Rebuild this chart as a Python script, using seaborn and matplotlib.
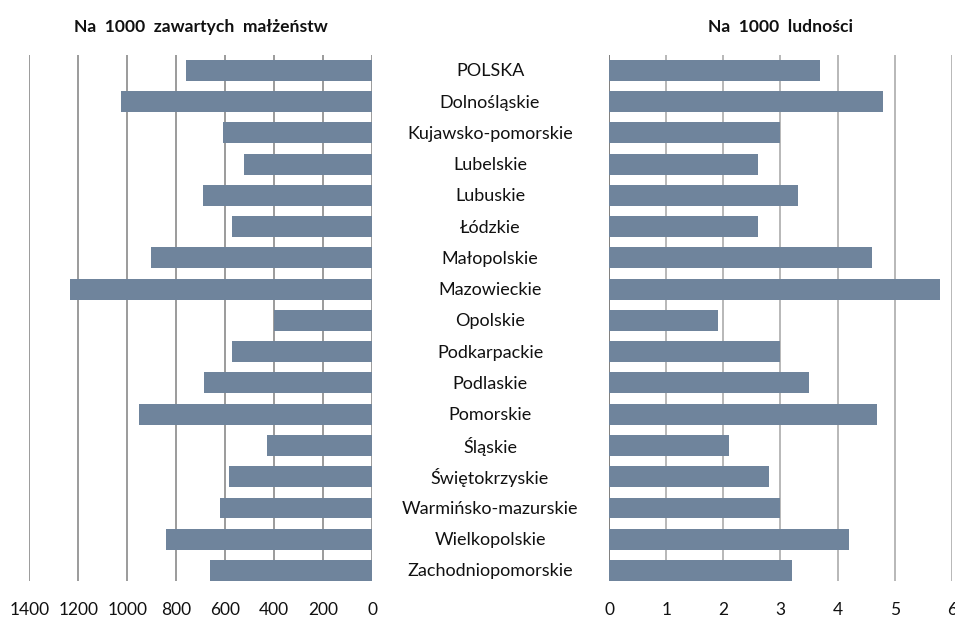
import pandas as pd
import matplotlib
matplotlib.use('Agg')
import matplotlib.pyplot as plt
import matplotlib.transforms as mtransforms
import seaborn as sns

# Data
regions = ['POLSKA', 'Dolnośląskie', 'Kujawsko-pomorskie', 'Lubelskie', 'Lubuskie',
           'Łódzkie', 'Małopolskie', 'Mazowieckie', 'Opolskie', 'Podkarpackie',
           'Podlaskie', 'Pomorskie', 'Śląskie', 'Świętokrzyskie',
           'Warmińsko-mazurskie', 'Wielkopolskie', 'Zachodniopomorskie']
per_marriages = [760, 1024, 608, 522, 690, 571, 902, 1233, 400, 571,
                 686, 951, 429, 584, 620, 841, 661]
per_population = [3.7, 4.8, 3.0, 2.6, 3.3, 2.6, 4.6, 5.8, 1.9, 3.0,
                  3.5, 4.7, 2.1, 2.8, 3.0, 4.2, 3.2]
left_ticks = [1400, 1200, 1000, 800, 600, 400, 200, 0]
right_ticks = [0, 1, 2, 3, 4, 5, 6]

df = pd.DataFrame({'region': regions, 'marriages': per_marriages,
                   'population': per_population})

sns.set_style('white')
plt.rcParams['font.family'] = ['Lato', 'DejaVu Sans']

bar_color = '#6f849c'
fig = plt.figure(figsize=(9.55, 6.19), dpi=100)
ax1 = fig.add_axes([0.0307, 0.0614, 0.3589, 0.8497])
ax2 = fig.add_axes([0.638, 0.0614, 0.3585, 0.8497])

sns.barplot(data=df, x='marriages', y='region', color=bar_color, saturation=1,
            width=0.67, linewidth=0, ax=ax1, zorder=3)
sns.barplot(data=df, x='population', y='region', color=bar_color, saturation=1,
            width=0.67, linewidth=0, ax=ax2, zorder=3)

ax1.set_xlim(1400, 0)
ax1.set_xticks(left_ticks)
ax2.set_xlim(0, 6)
ax2.set_xticks(right_ticks)

for ax, gc in ((ax1, '#8a8a8a'), (ax2, '#ababab')):
    ax.set_ylim(16.336, -0.49)
    ax.set_yticks([])
    ax.set_xlabel('')
    ax.set_ylabel('')
    for s in ax.spines.values():
        s.set_visible(False)
    ax.grid(axis='x', color=gc, linewidth=1.2, zorder=0)
    ax.grid(axis='y', visible=False)
    ax.tick_params(axis='x', length=0, pad=15, labelsize=12.5, labelcolor='#111111')

ax2.axvline(0, color='#808080', linewidth=1.4, zorder=2)

# region names in the middle column
trans = mtransforms.blended_transform_factory(fig.transFigure, ax2.transData)
for i, name in enumerate(regions):
    ax2.text(490 / 955, i + 0.03, name, transform=trans, ha='center', va='center',
             fontsize=13, color='#111111')

fig.text(201 / 955, 1 - 27 / 619, 'Na  1000  zawartych  małżeństw', ha='center',
         va='center', fontsize=12.6, fontweight='bold', color='#111111')
fig.text(780 / 955, 1 - 27 / 619, 'Na  1000  ludności', ha='center',
         va='center', fontsize=12.6, fontweight='bold', color='#111111')

plt.savefig('out.png', dpi=100)
